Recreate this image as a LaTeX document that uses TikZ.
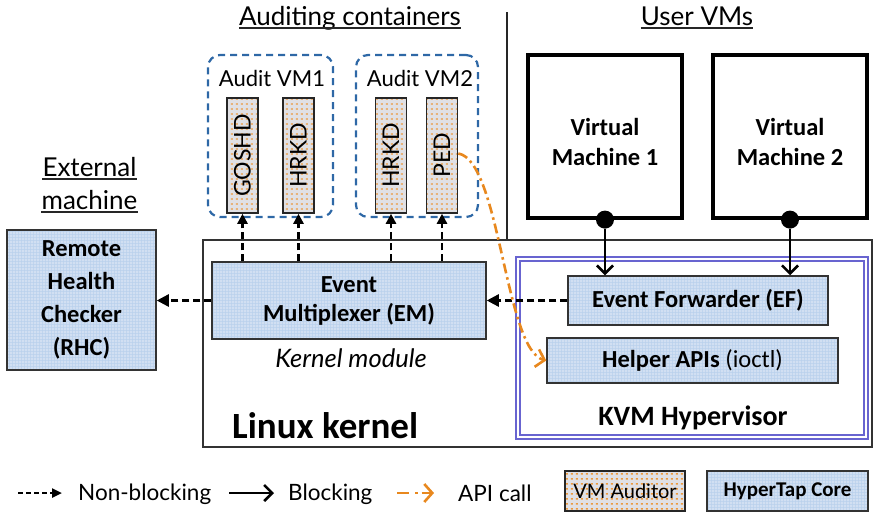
\documentclass[tikz,border=0pt]{standalone}
\usepackage{fontspec}
\setmainfont{Lato}
\newfontfamily\boxfont{Carlito}
\usetikzlibrary{arrows.meta,patterns,patterns.meta}

\definecolor{coreblue}{RGB}{184,207,236}
\definecolor{auditgray}{RGB}{224,224,228}
\definecolor{apiorange}{RGB}{232,136,30}
\definecolor{contblue}{RGB}{46,104,166}
\definecolor{kvmpurple}{RGB}{104,100,208}

% fine white vertical hatching for the HyperTap core components
\tikzdeclarepattern{
  name=corelines,
  type=colored,
  bottom left={(0pt,0pt)},
  top right={(3pt,3pt)},
  tile size={(3pt,3pt)},
  code={\draw[white,line width=0.9pt] (1.5pt,0pt) -- (1.5pt,3pt);}
}
% rows of small orange dashes for the VM auditors
\tikzdeclarepattern{
  name=auditdash,
  type=colored,
  bottom left={(0pt,0pt)},
  top right={(5pt,5pt)},
  tile size={(5pt,5pt)},
  code={\draw[apiorange!85,line width=1.5pt] (1pt,2.5pt) -- (3.4pt,2.5pt);}
}

\tikzset{
  core/.style={draw=black!80, line width=1.5pt, preaction={fill=coreblue},
    pattern=corelines, align=center, inner sep=0pt,
    font=\boxfont\bfseries\fontsize{24.5}{29}\selectfont},
  auditor/.style={draw=black!85, line width=1.5pt, preaction={fill=auditgray},
    pattern=auditdash, minimum width=31pt, minimum height=115pt, inner sep=0pt,
    font=\fontsize{23}{27}\selectfont},
  contbox/.style={draw=contblue, line width=2.2pt, dash pattern=on 7pt off 5pt,
    rounded corners=12pt, minimum height=162pt, inner sep=0pt},
  vmbox/.style={draw=black, line width=3.2pt, minimum width=154pt, minimum height=163pt,
    align=center, inner sep=0pt, font=\boxfont\bfseries\fontsize{24.5}{30}\selectfont},
  dot/.style={circle, fill=black, minimum size=18pt, inner sep=0pt},
  titletext/.style={inner sep=0pt, anchor=base, font=\fontsize{26}{30}\selectfont},
  plain/.style={inner sep=0pt, font=\fontsize{22.5}{27}\selectfont},
  nb/.style={black, line width=2.4pt, dash pattern=on 7pt off 4pt,
    -{Triangle[length=12pt,width=12pt]}},
  bl/.style={black, line width=2.6pt, -{Straight Barb[length=8pt,width=16pt]}},
  api/.style={apiorange, line width=2.6pt, dash pattern=on 10pt off 4pt on 2.5pt off 4pt,
    -{Straight Barb[length=8pt,width=18pt]}},
  uline/.style={line width=1.4pt, black!85}
}

\begin{document}
\begin{tikzpicture}[x=1pt,y=-1pt]
\useasboundingbox (0,0) rectangle (873,515);

% ---------- section titles ----------
\node[titletext] (tAud) at (350,25) {Auditing containers};
\node[titletext] (tUser) at (697,25) {User VMs};
\node[titletext] (tExt1) at (89.5,176) {External};
\node[titletext] (tExt2) at (89.5,209) {machine};
\foreach \t in {tAud,tUser,tExt1,tExt2}
  \draw[uline] ([yshift=-3pt]\t.base west) -- ([yshift=-3pt]\t.base east);

% separator between auditing containers and user VMs
\coordinate (septop) at (507,12);

% ---------- Linux kernel ----------
\node[draw=black!80, line width=1.5pt, minimum width=669pt, minimum height=207pt,
  inner sep=0pt] (kernel) at (537.5,343.5) {};
\draw[line width=1.5pt, black!85] (septop) -- (septop |- kernel.north);
\node[inner sep=0pt, anchor=base west, font=\boxfont\bfseries\fontsize{37}{42}\selectfont]
  (lk) at (232,438) {Linux kernel};

\node[core, minimum width=274pt, minimum height=77pt] (em) at (349,300.5)
  {Event\\Multiplexer (EM)};
\node[plain, font=\itshape\fontsize{25.5}{30}\selectfont] (km) at (351,358) {Kernel module};

% ---------- KVM hypervisor ----------
\node[draw=kvmpurple, double=white, double distance=2.2pt, line width=1.5pt,
  minimum width=348pt, minimum height=178pt, inner sep=0pt] (kvm) at (692,348) {};
\node[core, minimum width=260pt, minimum height=49pt] (ef) at (698,300.5)
  {Event Forwarder (EF)};
\node[core, minimum width=291pt, minimum height=45pt] (helper) at (692.5,360.5)
  {Helper APIs \mdseries(ioctl)};
\node[inner sep=0pt, font=\boxfont\bfseries\fontsize{28}{32}\selectfont]
  (kvmlbl) at (693,418) {KVM Hypervisor};

% ---------- external machine ----------
\node[core, minimum width=149pt, minimum height=140pt,
  font=\boxfont\bfseries\fontsize{24.5}{33}\selectfont] (rhc) at (81.5,300)
  {Remote\\Health\\Checker\\(RHC)};

% ---------- auditing containers ----------
\node[contbox, minimum width=125pt] (avm1) at (270.5,136) {};
\node[contbox, minimum width=122pt] (avm2) at (417,136) {};
\node[plain, font=\fontsize{22}{26}\selectfont] (avm1lbl) at (272,78) {Audit VM1};
\node[plain, font=\fontsize{22}{26}\selectfont] (avm2lbl) at (420,78) {Audit VM2};

\node[auditor] (goshd) at (242.5,155.5) {\rotatebox{90}{GOSHD}};
\node[auditor] (hrkdA) at (298.5,155.5) {\rotatebox{90}{HRKD}};
\node[auditor] (hrkdB) at (391,155.5) {\rotatebox{90}{HRKD}};
\node[auditor] (ped)   at (442,155.5) {\rotatebox{90}{PED}};

% ---------- user VMs ----------
\node[vmbox] (vm1) at (605,136.5) {\\[-2pt]Virtual\\Machine 1};
\node[vmbox] (vm2) at (790,136.5) {\\[-2pt]Virtual\\Machine 2};
\node[dot] (d1) at (vm1.south) {};
\node[dot] (d2) at (vm2.south) {};

% ---------- connectors ----------
\draw[bl] (d1) -- (d1 |- ef.north);
\draw[bl] (d2) -- (d2 |- ef.north);
\draw[nb] (ef.west) -- (em.east);
\draw[nb] (em.west) -- (rhc.east |- em.west);
\foreach \a in {goshd,hrkdA,hrkdB,ped}
  \draw[nb, -{Triangle[length=10pt,width=10pt]}] (em.north -| \a) -- (\a.south);
\draw[api] ([yshift=2pt]ped.east) .. controls (500,160) and (505,350) .. (helper.west);

% ---------- legend ----------
\coordinate (lnbA) at (18,493);
\coordinate (lnbB) at (62,493);
\draw[nb, dash pattern=on 5pt off 3pt, -{Triangle[length=10pt,width=9pt]}] (lnbA) -- (lnbB);
\node[plain, anchor=base west] (lnbT) at (78,500) {Non-blocking};
\coordinate (lblA) at (229,493);
\coordinate (lblB) at (274,493);
\draw[bl] (lblA) -- (lblB);
\node[plain, anchor=base west] (lblT) at (288,500) {Blocking};
\coordinate (lapA) at (397,493);
\coordinate (lapB) at (434,493);
\draw[api, dash pattern=on 12pt off 6pt on 2.5pt off 4pt] (lapA) -- (lapB);
\node[plain, anchor=base west] (lapT) at (458,501) {API call};
\node[auditor, minimum width=120pt, minimum height=40pt,
  font=\fontsize{20}{24}\selectfont] (lva) at (625,491) {VM Auditor};
\node[core, minimum width=161pt, minimum height=40pt,
  font=\boxfont\bfseries\fontsize{21}{25}\selectfont] (lhc) at (787.5,491) {HyperTap Core};
\end{tikzpicture}
\end{document}
